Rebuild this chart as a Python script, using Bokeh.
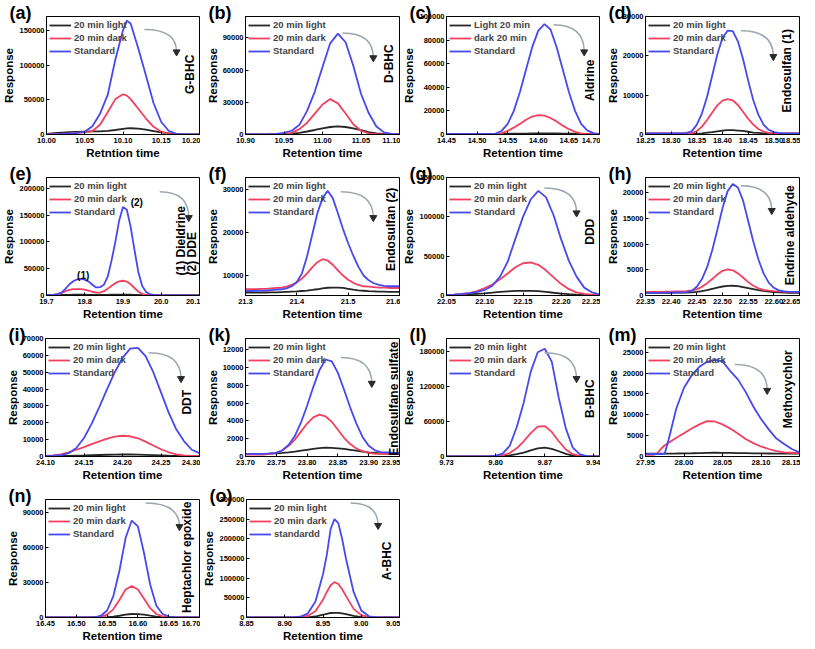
import math
from bokeh.plotting import figure
from bokeh.models import Range1d, FixedTicker, PrintfTickFormatter, Label, Legend, LegendItem
from bokeh.layouts import row, column
from bokeh.embed import file_html
from bokeh.resources import INLINE

# ---------------- data ----------------
A_X = [10.00, 10.01, 10.02, 10.03, 10.04, 10.05, 10.06, 10.07, 10.08, 10.09, 10.10, 10.105, 10.11, 10.12, 10.13, 10.14, 10.15, 10.16, 10.17, 10.18, 10.19, 10.20]
A_LIGHT = [1000, 1800, 2600, 3300, 3900, 4200, 4400, 4600, 5200, 6500, 8000, 8700, 9000, 8500, 7000, 5000, 3000, 1500, 700, 300, 200, 200]
A_DARK = [500, 800, 1200, 1700, 2300, 3000, 5000, 14000, 32000, 51000, 58000, 56000, 51000, 37000, 23000, 11000, 4000, 1000, 300, 200, 200, 200]
A_STD = [300, 600, 1000, 1500, 2200, 4000, 12000, 30000, 57000, 108000, 150000, 164000, 160000, 124000, 85000, 45000, 18000, 5000, 1000, 300, 200, 200]

B_X = [10.90, 10.91, 10.92, 10.93, 10.94, 10.95, 10.96, 10.97, 10.98, 10.99, 11.00, 11.01, 11.02, 11.03, 11.04, 11.05, 11.06, 11.07, 11.08, 11.09, 11.10]
B_LIGHT = [200, 200, 200, 200, 250, 300, 700, 1500, 2800, 4200, 5800, 7000, 7500, 7000, 5800, 4000, 2300, 1100, 500, 300, 200]
B_DARK = [200, 200, 200, 200, 300, 500, 1500, 5000, 11000, 19500, 28000, 33000, 29000, 19500, 9500, 3500, 1000, 400, 200, 200, 200]
B_STD = [200, 200, 200, 300, 600, 1500, 3500, 9000, 22000, 40000, 63000, 85000, 94000, 86000, 64000, 38000, 20000, 7500, 2000, 500, 200]

C_X = [14.45, 14.46, 14.47, 14.48, 14.49, 14.50, 14.51, 14.52, 14.53, 14.54, 14.55, 14.56, 14.57, 14.58, 14.59, 14.60, 14.61, 14.62, 14.63, 14.64, 14.65, 14.66, 14.67, 14.68, 14.69, 14.70]
C_LIGHT = [500, 500, 500, 500, 500, 500, 520, 540, 560, 600, 650, 700, 760, 820, 880, 920, 940, 930, 880, 800, 720, 650, 600, 560, 530, 500]
C_DARK = [300, 300, 300, 300, 300, 300, 300, 300, 400, 1200, 3000, 5800, 9000, 12500, 15200, 16500, 16000, 14000, 11000, 7500, 4500, 2300, 1000, 500, 300, 300]
C_STD = [500, 500, 500, 500, 500, 500, 500, 500, 800, 3000, 9000, 20000, 36000, 55000, 74000, 88000, 93500, 89000, 74000, 55000, 36000, 20000, 9000, 3500, 1200, 500]

D_X = [18.25, 18.26, 18.27, 18.28, 18.29, 18.30, 18.31, 18.32, 18.33, 18.34, 18.35, 18.36, 18.37, 18.38, 18.39, 18.40, 18.41, 18.42, 18.43, 18.44, 18.45, 18.46, 18.47, 18.48, 18.49, 18.50, 18.51, 18.52, 18.53, 18.54, 18.55]
D_LIGHT = [200, 200, 200, 200, 200, 200, 200, 200, 200, 200, 200, 300, 450, 600, 800, 1000, 1100, 1100, 1000, 900, 700, 500, 400, 300, 250, 200, 200, 200, 200, 200, 200]
D_DARK = [250, 250, 250, 250, 250, 250, 250, 250, 250, 300, 900, 2000, 3700, 5600, 7400, 8600, 9000, 8700, 7500, 5800, 4000, 2500, 1400, 700, 400, 300, 300, 300, 300, 300, 300]
D_STD = [300, 300, 300, 300, 300, 300, 300, 300, 400, 800, 2500, 5400, 9600, 15000, 20400, 24600, 26400, 26300, 23700, 19200, 13700, 8700, 5000, 2500, 1200, 600, 400, 300, 300, 300, 300]

E_X = [19.70, 19.71, 19.72, 19.73, 19.74, 19.75, 19.76, 19.77, 19.78, 19.79, 19.80, 19.81, 19.82, 19.83, 19.84, 19.85, 19.86, 19.87, 19.88, 19.89, 19.90, 19.91, 19.92, 19.93, 19.94, 19.95, 19.96, 19.97, 19.98, 19.99, 20.00, 20.01, 20.02, 20.03, 20.04, 20.05, 20.06, 20.07, 20.08, 20.09, 20.10]
E_LIGHT = [500, 500, 600, 700, 900, 1100, 1300, 1400, 1500, 1500, 1400, 1300, 1100, 1000, 1000, 1100, 1300, 1500, 1700, 1800, 1800, 1700, 1500, 1200, 1000, 800, 700, 600, 500, 500, 500, 500, 500, 500, 500, 500, 500, 500, 500, 500, 500]
E_DARK = [300, 500, 1000, 2500, 5000, 8000, 10500, 11800, 12000, 12000, 11000, 9000, 7000, 5500, 5500, 8000, 12500, 18000, 23000, 26500, 27500, 26000, 21000, 14000, 7500, 3000, 1200, 500, 300, 300, 300, 300, 300, 300, 300, 300, 300, 300, 300, 300, 300]
E_STD = [500, 800, 1500, 3000, 6000, 13000, 21000, 26500, 30000, 31000, 29500, 26000, 20000, 15000, 15500, 20000, 35000, 65000, 100000, 140000, 165000, 160000, 128000, 85000, 44000, 18000, 7000, 2500, 1000, 600, 400, 400, 400, 400, 400, 400, 400, 400, 400, 400, 400]

F_X = [21.30, 21.31, 21.32, 21.33, 21.34, 21.35, 21.36, 21.37, 21.38, 21.39, 21.40, 21.41, 21.42, 21.43, 21.44, 21.45, 21.46, 21.47, 21.48, 21.49, 21.50, 21.51, 21.52, 21.53, 21.54, 21.55, 21.56, 21.57, 21.58, 21.59, 21.60]
F_LIGHT = [6000, 6000, 6000, 6050, 6050, 6100, 6100, 6150, 6200, 6250, 6300, 6400, 6500, 6650, 6800, 7000, 7150, 7200, 7200, 7100, 6900, 6700, 6550, 6450, 6350, 6300, 6250, 6250, 6200, 6200, 6200]
F_DARK = [6800, 6800, 6850, 6900, 6900, 7000, 7100, 7200, 7400, 7800, 8400, 9300, 10500, 11900, 13100, 13800, 13500, 12500, 11200, 10000, 9000, 8300, 7800, 7500, 7400, 7300, 7200, 7200, 7100, 7100, 7100]
F_STD = [6400, 6400, 6450, 6500, 6500, 6600, 6700, 6800, 7000, 7500, 8500, 10500, 14500, 19500, 24500, 28000, 29700, 28000, 24500, 20800, 17500, 14600, 12000, 10000, 8900, 8200, 7800, 7600, 7500, 7500, 7500]

G_X = [22.05, 22.06, 22.07, 22.08, 22.09, 22.10, 22.11, 22.12, 22.13, 22.14, 22.15, 22.16, 22.17, 22.18, 22.19, 22.20, 22.21, 22.22, 22.23, 22.24, 22.25]
G_LIGHT = [500, 800, 1200, 1700, 2200, 2800, 3600, 4500, 5300, 5800, 6000, 5900, 5500, 4600, 3500, 2500, 1700, 1100, 800, 600, 500]
G_DARK = [800, 1200, 1800, 3000, 5500, 9500, 14000, 20500, 28000, 36000, 41000, 42000, 39000, 32000, 23000, 14500, 8000, 4000, 2000, 1000, 700]
G_STD = [800, 1200, 2000, 3000, 4500, 7000, 12500, 24000, 43000, 72000, 100000, 122000, 133000, 125000, 102000, 71000, 44000, 24000, 10000, 4000, 1500]

H_X = [22.35, 22.36, 22.37, 22.38, 22.39, 22.40, 22.41, 22.42, 22.43, 22.44, 22.45, 22.46, 22.47, 22.48, 22.49, 22.50, 22.51, 22.52, 22.53, 22.54, 22.55, 22.56, 22.57, 22.58, 22.59, 22.60, 22.61, 22.62, 22.63, 22.64, 22.65]
H_LIGHT = [500, 500, 500, 510, 520, 530, 540, 560, 580, 620, 700, 850, 1050, 1300, 1550, 1750, 1880, 1900, 1820, 1650, 1450, 1250, 1050, 900, 780, 680, 600, 560, 530, 510, 500]
H_DARK = [700, 700, 700, 720, 740, 760, 780, 800, 850, 1000, 1200, 1700, 2400, 3200, 4100, 4800, 5100, 4900, 4300, 3500, 2600, 1900, 1400, 1100, 950, 850, 800, 750, 700, 700, 700]
H_STD = [500, 500, 520, 530, 550, 560, 580, 600, 650, 900, 1700, 3200, 5500, 8800, 12800, 17000, 20300, 21700, 21000, 18500, 14500, 10500, 7000, 4300, 2500, 1500, 1000, 800, 700, 700, 700]

I_X = [24.10, 24.11, 24.12, 24.13, 24.14, 24.15, 24.16, 24.17, 24.18, 24.19, 24.20, 24.21, 24.22, 24.23, 24.24, 24.25, 24.26, 24.27, 24.28, 24.29, 24.30]
I_LIGHT = [300, 300, 350, 400, 500, 600, 750, 900, 1050, 1150, 1200, 1200, 1100, 950, 800, 650, 500, 400, 350, 300, 300]
I_DARK = [300, 700, 1200, 2500, 4000, 5600, 7300, 9000, 10600, 11800, 12300, 12000, 10800, 8800, 6500, 4300, 2500, 1300, 600, 400, 300]
I_STD = [300, 500, 800, 2000, 5000, 11000, 19500, 29500, 40000, 50000, 58500, 64000, 64500, 59500, 50000, 38000, 26000, 16000, 9000, 4000, 2000]

K_X = [23.70, 23.71, 23.72, 23.73, 23.74, 23.75, 23.76, 23.77, 23.78, 23.79, 23.80, 23.81, 23.82, 23.83, 23.84, 23.85, 23.86, 23.87, 23.88, 23.89, 23.90, 23.91, 23.92, 23.93, 23.94, 23.95]
K_LIGHT = [300, 300, 300, 300, 320, 350, 400, 470, 550, 650, 750, 850, 950, 1000, 980, 920, 850, 750, 650, 550, 450, 400, 350, 330, 310, 300]
K_DARK = [200, 200, 200, 200, 300, 400, 700, 1200, 1900, 2800, 3700, 4400, 4700, 4500, 3900, 3000, 2100, 1400, 900, 600, 400, 300, 300, 300, 300, 300]
K_STD = [300, 300, 300, 300, 350, 400, 700, 1300, 2300, 3800, 5700, 7800, 9700, 10900, 10700, 9400, 7500, 5500, 3700, 2200, 1200, 700, 500, 450, 400, 400]

L_X = [9.73, 9.74, 9.75, 9.76, 9.77, 9.78, 9.79, 9.80, 9.81, 9.82, 9.83, 9.84, 9.85, 9.86, 9.87, 9.88, 9.89, 9.90, 9.91, 9.92, 9.93, 9.94, 9.95]
L_LIGHT = [0, 0, 0, 0, 0, 0, 0, 300, 800, 2000, 4000, 6500, 10500, 14000, 15000, 13000, 9000, 4500, 1500, 300, 0, 0, 0]
L_DARK = [0, 0, 0, 0, 0, 0, 0, 500, 2000, 6000, 14000, 26000, 40000, 51000, 52000, 42000, 26000, 12000, 4000, 1000, 0, 0, 0]
L_STD = [0, 0, 0, 0, 0, 0, 0, 1500, 5000, 18000, 50000, 92000, 145000, 178000, 184000, 162000, 100000, 48000, 15000, 3500, 500, 0, 0]

M_X = [27.95, 27.96, 27.965, 27.97, 27.975, 27.98, 27.99, 28.00, 28.01, 28.02, 28.03, 28.04, 28.05, 28.06, 28.07, 28.08, 28.09, 28.10, 28.11, 28.12, 28.13, 28.14, 28.15]
M_LIGHT = [700, 700, 700, 700, 700, 700, 720, 750, 780, 820, 870, 900, 880, 850, 820, 790, 760, 740, 720, 700, 700, 700, 700]
M_DARK = [400, 400, 700, 1800, 2700, 3300, 4500, 5600, 6700, 7700, 8500, 8400, 7700, 6700, 5500, 4200, 3200, 2400, 1800, 1300, 1000, 900, 800]
M_STD = [600, 600, 600, 600, 700, 4000, 11500, 16500, 19500, 21500, 22700, 23200, 22800, 20500, 18500, 15500, 12000, 9000, 6500, 4300, 3000, 1800, 1000]

N_X = [16.45, 16.46, 16.47, 16.48, 16.49, 16.50, 16.51, 16.52, 16.53, 16.54, 16.55, 16.56, 16.57, 16.58, 16.59, 16.60, 16.61, 16.62, 16.63, 16.64, 16.65, 16.66, 16.67, 16.68, 16.69, 16.70]
N_LIGHT = [0, 0, 0, 0, 0, 0, 0, 0, 0, 0, 300, 800, 1500, 2400, 3000, 2900, 2500, 1600, 800, 400, 200, 0, 0, 0, 0, 0]
N_DARK = [0, 0, 0, 0, 0, 0, 0, 0, 0, 500, 2500, 7000, 15000, 24000, 27000, 24000, 16000, 8000, 3000, 1000, 300, 0, 0, 0, 0, 0]
N_STD = [0, 0, 0, 0, 0, 0, 0, 0, 200, 1500, 6000, 18000, 40000, 68000, 83000, 78000, 55000, 28000, 10000, 3000, 800, 200, 0, 0, 0, 0]

O_X = [8.85, 8.86, 8.87, 8.88, 8.89, 8.90, 8.91, 8.92, 8.93, 8.94, 8.95, 8.955, 8.96, 8.965, 8.97, 8.975, 8.98, 8.99, 9.00, 9.01, 9.02, 9.03, 9.04, 9.05]
O_LIGHT = [0, 0, 0, 0, 0, 0, 0, 100, 500, 2500, 7000, 9500, 11500, 12000, 12000, 10500, 8500, 4000, 1000, 200, 0, 0, 0, 0]
O_DARK = [0, 0, 0, 0, 0, 0, 0, 500, 4000, 16000, 45000, 65000, 82000, 90000, 85000, 72000, 55000, 22000, 6000, 1000, 0, 0, 0, 0]
O_STD = [0, 0, 0, 0, 0, 0, 500, 2000, 10000, 40000, 110000, 160000, 225000, 250000, 240000, 200000, 150000, 65000, 18000, 3000, 500, 0, 0, 0]

NAMES = ["20 min light", "20 min dark", "Standard"]
NAMES_C = ["Light 20 min", "dark 20 min", "Standard"]
NAMES_O = ["20 min light", "20 min dark", "standardd"]

# ---------------- style ----------------
FONT = "Liberation Sans"
COL_LIGHT = "#262626"
COL_DARK = "#f2405f"
COL_STD = "#4848ee"
W, H = 200, 161


def panel(tag, xs, light, dark, std, xr, yr, xt, yt, xfmt, names, xtitle, comps, arrow, extras=()):
    p = figure(width=W, height=H, output_backend="svg", toolbar_location=None,
               x_range=Range1d(*xr), y_range=Range1d(*yr),
               min_border_left=45, min_border_right=1, min_border_top=16, min_border_bottom=25)
    p.xgrid.visible = False
    p.ygrid.visible = False
    p.outline_line_color = "black"
    p.outline_line_width = 1
    p.background_fill_color = "white"
    p.border_fill_color = "white"

    # panel letter as the (left-aligned) title, pulled down next to the frame top
    p.title.text = tag
    p.title.align = "left"
    p.title.offset = -37
    p.title.standoff = -12
    p.title.text_font = FONT
    p.title.text_font_size = "18px"
    p.title.text_font_style = "bold"
    p.title.text_color = "black"

    p.xaxis.ticker = FixedTicker(ticks=xt)
    p.yaxis.ticker = FixedTicker(ticks=yt)
    p.xaxis.formatter = PrintfTickFormatter(format=xfmt)
    p.yaxis.formatter = PrintfTickFormatter(format="%d")
    p.xaxis.axis_label = xtitle
    p.yaxis.axis_label = "Response"
    for ax in (p.xaxis[0], p.yaxis[0]):
        ax.major_label_text_font = FONT
        ax.major_label_text_font_size = "7.5px"
        ax.major_label_text_font_style = "bold"
        ax.major_label_text_color = "black"
        ax.axis_label_text_font = FONT
        ax.axis_label_text_font_size = "11.5px"
        ax.axis_label_text_font_style = "bold"
        ax.axis_label_text_color = "black"
        ax.major_tick_in = 3
        ax.major_tick_out = 0
        ax.minor_tick_in = 0
        ax.minor_tick_out = 0
        ax.major_label_standoff = 2
        ax.axis_label_standoff = 1
        ax.axis_line_color = "black"
    p.xaxis.major_label_standoff = 3

    r1 = p.line(xs, light, line_color=COL_LIGHT, line_width=1.8)
    r2 = p.line(xs, dark, line_color=COL_DARK, line_width=1.8)
    r3 = p.line(xs, std, line_color=COL_STD, line_width=1.8)

    leg = Legend(items=[LegendItem(label=n, renderers=[r]) for n, r in zip(names, (r1, r2, r3))],
                 location="top_left", background_fill_alpha=0, border_line_alpha=0,
                 label_text_font=FONT, label_text_font_size="9.5px", label_text_font_style="bold",
                 glyph_width=22, glyph_height=10, label_height=10, spacing=2,
                 padding=2, margin=1, label_standoff=3)
    p.add_layout(leg)

    def fx(f):
        return xr[0] + f * (xr[1] - xr[0])

    def fy(f):
        return yr[0] + f * (yr[1] - yr[0])

    # curved arrow
    ax0, ay0, ax1, ay1 = arrow
    p.quadratic(x0=[fx(ax0)], y0=[fy(ay0)], x1=[fx(ax1)], y1=[fy(ay1)],
                cx=[fx(ax1)], cy=[fy(ay0)], line_color="#9ea7b0", line_width=1.5)
    p.scatter([fx(ax1)], [fy(ay1)], marker="inverted_triangle", size=7,
              fill_color="#2a2a2a", line_color="#2a2a2a")

    for text, cx, cy, align in comps:
        p.add_layout(Label(x=fx(cx), y=fy(cy), text=text, angle=math.pi / 2,
                           text_align=align, text_baseline="middle",
                           text_font=FONT, text_font_size="12px", text_font_style="bold",
                           text_color="black"))
    for text, cx, cy in extras:
        p.add_layout(Label(x=fx(cx), y=fy(cy), text=text, text_align="center",
                           text_baseline="middle", text_font=FONT, text_font_size="10px",
                           text_font_style="bold", text_color="black"))
    return p


RT = "Retention time"
t05 = lambda a, n: [round(a + 0.05 * i, 2) for i in range(n)]

pa = panel("(a)", A_X, A_LIGHT, A_DARK, A_STD, (10.0, 10.2), (0, 170000), t05(10.0, 5),
           [0, 50000, 100000, 150000], "%.2f", NAMES, "Retntion time",
           [("G-BHC", 0.94, 0.51, "center")], (0.64, 0.89, 0.85, 0.70))
pb = panel("(b)", B_X, B_LIGHT, B_DARK, B_STD, (10.9, 11.1), (0, 110000), t05(10.9, 5),
           [0, 30000, 60000, 90000], "%.2f", NAMES, RT,
           [("D-BHC", 0.935, 0.60, "center")], (0.63, 0.86, 0.83, 0.65))
pc = panel("(c)", C_X, C_LIGHT, C_DARK, C_STD, (14.45, 14.70), (0, 100000), t05(14.45, 6),
           [0, 20000, 40000, 60000, 80000, 100000], "%.2f", NAMES_C, RT,
           [("Aldrine", 0.94, 0.46, "center")], (0.70, 0.93, 0.90, 0.70))
pd_ = panel("(d)", D_X, D_LIGHT, D_DARK, D_STD, (18.25, 18.55), (0, 30000), t05(18.25, 7),
            [0, 10000, 20000, 30000], "%.2f", NAMES, RT,
            [("Endosulfan (1)", 0.92, 0.54, "center")], (0.62, 0.88, 0.83, 0.66))
pe = panel("(e)", E_X, E_LIGHT, E_DARK, E_STD, (19.7, 20.1), (0, 220000), [19.7, 19.8, 19.9, 20.0, 20.1],
           [0, 50000, 100000, 150000, 200000], "%.1f", NAMES, RT,
           [("(1) Dieldrine", 0.88, 0.17, "left"), ("(2) DDE", 0.95, 0.17, "left")],
           (0.74, 0.88, 0.93, 0.66), extras=[("(1)", 0.24, 0.17), ("(2)", 0.59, 0.79)])
pf = panel("(f)", F_X, F_LIGHT, F_DARK, F_STD, (21.3, 21.6), (5350, 32800), [21.3, 21.4, 21.5, 21.6],
           [10000, 20000, 30000], "%.1f", NAMES, RT,
           [("Endosulfan (2)", 0.945, 0.56, "center")], (0.62, 0.88, 0.83, 0.66))
pg = panel("(g)", G_X, G_LIGHT, G_DARK, G_STD, (22.05, 22.25), (0, 150000), t05(22.05, 5),
           [0, 50000, 100000, 150000], "%.2f", NAMES, RT,
           [("DDD", 0.94, 0.54, "center")], (0.64, 0.91, 0.85, 0.70))
ph = panel("(h)", H_X, H_LIGHT, H_DARK, H_STD, (22.35, 22.65), (0, 22950), t05(22.35, 7),
           [0, 5000, 10000, 15000, 20000], "%.2f", NAMES, RT,
           [("Endrine aldehyde", 0.94, 0.51, "center")], (0.62, 0.93, 0.82, 0.72))
pi_ = panel("(i)", I_X, I_LIGHT, I_DARK, I_STD, (24.10, 24.30), (0, 70000), t05(24.10, 5),
            [0, 10000, 20000, 30000, 40000, 50000, 60000, 70000], "%.2f", NAMES, RT,
            [("DDT", 0.92, 0.46, "center")], (0.67, 0.88, 0.88, 0.66))
pk = panel("(k)", K_X, K_LIGHT, K_DARK, K_STD, (23.70, 23.95), (0, 13260), t05(23.70, 6),
           [0, 2000, 4000, 6000, 8000, 10000, 12000], "%.2f", NAMES, RT,
           [("Endosulfane sulfate", 0.965, 0.49, "center")], (0.62, 0.84, 0.82, 0.62))
pl = panel("(l)", L_X, L_LIGHT, L_DARK, L_STD, (9.73, 9.948), (0, 201600), [9.73, 9.80, 9.87, 9.94],
           [0, 60000, 120000, 180000], "%.2f", NAMES, RT,
           [("B-BHC", 0.94, 0.49, "center")], (0.64, 0.88, 0.85, 0.66))
pm = panel("(m)", M_X, M_LIGHT, M_DARK, M_STD, (27.95, 28.15), (0, 28300), t05(27.95, 5),
           [0, 5000, 10000, 15000, 20000, 25000], "%.2f", NAMES, RT,
           [("Methoxychlor", 0.925, 0.57, "center")], (0.58, 0.78, 0.79, 0.56))
pn = panel("(n)", N_X, N_LIGHT, N_DARK, N_STD, (16.45, 16.70), (0, 101000), t05(16.45, 6),
           [0, 30000, 60000, 90000], "%.2f", NAMES, RT,
           [("Heptachlor epoxide", 0.92, 0.51, "center")], (0.65, 0.97, 0.87, 0.77))
po = panel("(o)", O_X, O_LIGHT, O_DARK, O_STD, (8.85, 9.05), (0, 300000), t05(8.85, 5),
           [0, 50000, 100000, 150000, 200000, 250000, 300000], "%.2f", NAMES_O, RT,
           [("A-BHC", 0.92, 0.48, "center")], (0.68, 0.97, 0.86, 0.78))

layout = column(row(pa, pb, pc, pd_), row(pe, pf, pg, ph), row(pi_, pk, pl, pm), row(pn, po))

with open("out.html", "w") as fh:
    fh.write(file_html(layout, INLINE))
